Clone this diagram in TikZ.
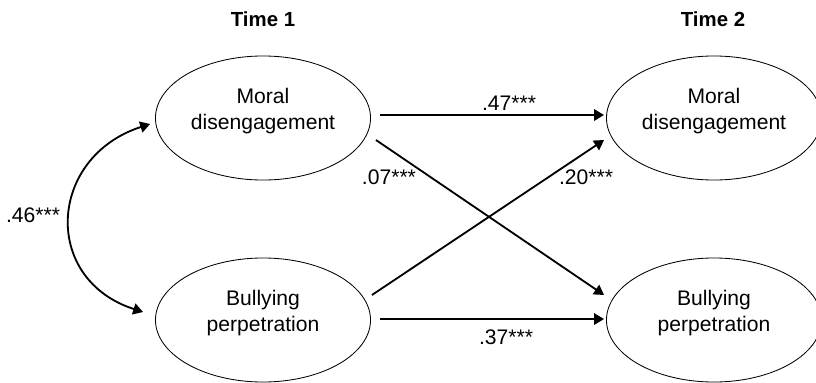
\documentclass[tikz,border=0pt]{standalone}
\usepackage{fontspec}
\setmainfont{Liberation Sans}
\usetikzlibrary{shapes.geometric,arrows.meta,calc}
\begin{document}
\begin{tikzpicture}[x=0.025cm,y=-0.025cm,
        latent/.style={ellipse,draw,line width=0.6pt,minimum width=5.375cm,minimum height=3.1cm,inner sep=0pt,align=center,font=\fontsize{15}{18}\selectfont,text depth=13pt},
        effect/.style={line width=1.3pt,-{Triangle[length=7pt,width=8pt]}},
        covar/.style={line width=1.3pt,{Triangle[length=7pt,width=8pt]}-{Triangle[length=7pt,width=8pt]}},
        coef/.style={font=\fontsize{15}{18}\selectfont,inner sep=0pt}]
            \useasboundingbox (0,0) rectangle (816,382);
            \draw (263,19) node[font=\bfseries\fontsize{14.5}{17}\selectfont] (time1) {Time 1};
            \draw (713,19) node[font=\bfseries\fontsize{14.5}{17}\selectfont] (time2) {Time 2};
            \draw (263,118) node[latent] (md1) {Moral\\disengagement};
            \draw (263,320) node[latent] (bp1) {Bullying\\perpetration};
            \draw (714,118) node[latent] (md2) {Moral\\disengagement};
            \draw (714,320) node[latent] (bp2) {Bullying\\perpetration};
            \draw[effect] ($(md1.east)+(9,-3)$) -- ($(md2.west)+(-2,-3)$);
            \path (md2.west) +(-97,-15) node[coef] (b47) {.47***};
            \draw[effect] ($(md1.east)+(5,22)$) -- ($(bp2.west)+(-2,-25)$);
            \path (md1.east) +(18,59) node[coef] (b07) {.07***};
            \draw[effect] ($(bp1.east)+(1,-25)$) -- ($(md2.west)+(-2,22)$);
            \path (md2.west) +(-20,59) node[coef] (b20) {.20***};
            \draw[effect] ($(bp1.east)+(9,-1)$) -- ($(bp2.west)+(-2,-1)$);
            \path (bp2.west) +(-100,17) node[coef] (b37) {.37***};
            \draw[covar] ($(md1.west)+(-5,6)$) .. controls +(-102,33) and +(-102,-33) .. ($(bp1.west)+(-12,-8)$);
            \path (bp1.west) +(-122,-105) node[coef] (b46) {.46***};
        \end{tikzpicture}
\end{document}
